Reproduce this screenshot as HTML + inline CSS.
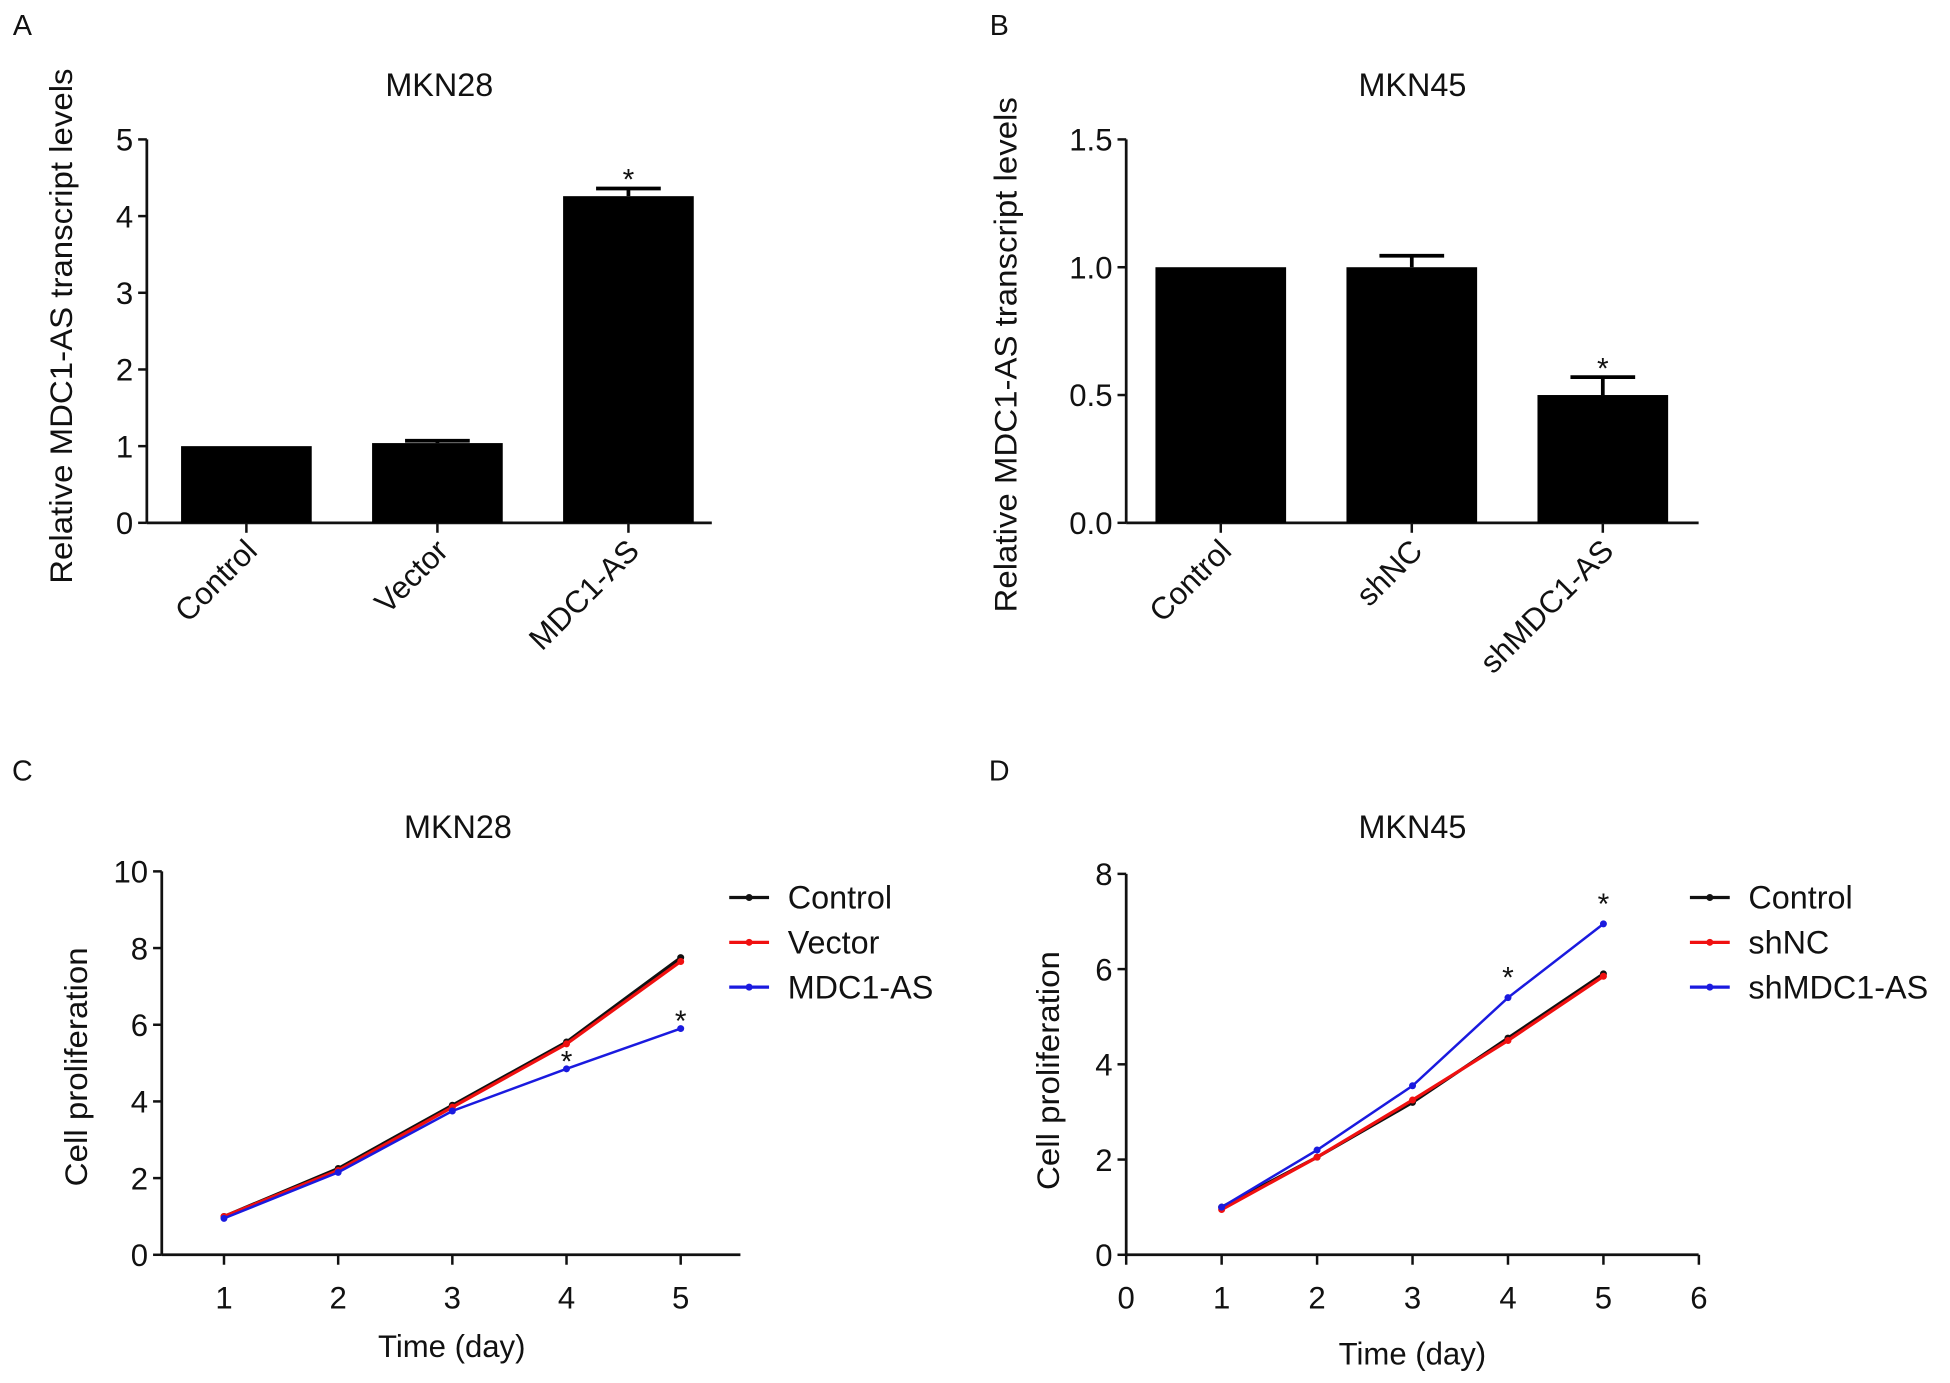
<!DOCTYPE html>
<html><head><meta charset="utf-8"><style>
html,body{margin:0;padding:0;background:#fff;}
svg{display:block;font-family:"Liberation Sans",Arial,sans-serif;}
</style></head><body>
<svg id="fig" width="1950" height="1383" viewBox="0 0 1567 1111" preserveAspectRatio="none" xmlns="http://www.w3.org/2000/svg">
<g id="root"></g>
</svg>
<script>
// Panel A data
const catsA = ["Control","Vector","MDC1-AS"];
const valsA = [1.0, 1.04, 4.26];
const errA = [0.0, 0.03, 0.1];
const ticksA = [0,1,2,3,4,5];
// Panel B data
const catsB = ["Control","shNC","shMDC1-AS"];
const valsB = [1.0, 1.0, 0.5];
const errB = [0.0, 0.045, 0.07];
const ticksB = ["0.0","0.5","1.0","1.5"];
// Panel C data
const daysC = [1,2,3,4,5];
const seriesNamesC = ["Control","Vector","MDC1-AS"];
const ctrlC = [1.0, 2.25, 3.9, 5.55, 7.75];
const vecC = [1.0, 2.2, 3.85, 5.5, 7.65];
const mdcC = [0.95, 2.15, 3.75, 4.85, 5.9];
const ticksCy = [0,2,4,6,8,10];
const ticksCx = [1,2,3,4,5];
// Panel D data
const daysD = [1,2,3,4,5];
const seriesNamesD = ["Control","shNC","shMDC1-AS"];
const ctrlD = [1.0, 2.05, 3.2, 4.55, 5.9];
const shncD = [0.95, 2.05, 3.25, 4.5, 5.85];
const shmD = [1.0, 2.2, 3.55, 5.4, 6.95];
const ticksDy = [0,2,4,6,8];
const ticksDx = [0,1,2,3,4,5,6];

const NS="http://www.w3.org/2000/svg";
const root=document.getElementById('root');
function el(tag,attrs,parent,text){const e=document.createElementNS(NS,tag);for(const k in attrs)e.setAttribute(k,attrs[k]);if(text!==undefined)e.textContent=text;(parent||root).appendChild(e);return e;}
function txt(x,y,s,size,anchor,name,extra){const t=el('text',Object.assign({x:x,y:y,'font-size':size,'text-anchor':anchor||'middle',fill:'#111'},extra||{}),root,s);


return t;}
function ln(x1,y1,x2,y2,c,w,name){const l=el('line',{x1,y1,x2,y2,stroke:c,'stroke-width':w});


return l;}
const FS=25;

txt(18,28,"A",23,'middle','panel-label-a');
txt(803,28,"B",23,'middle','panel-label-b');
txt(18,627,"C",23,'middle','panel-label-c');
txt(803,627,"D",23,'middle','panel-label-d');

function barPanel(o){
  const y=v=>o.y0-(v-o.ymin)/(o.ymax-o.ymin)*(o.y0-o.y1);
  txt(o.titleX,77,o.title,26,'middle',o.p+'-title');
  ln(o.ax,o.y1,o.ax,o.y0,'#111',2.2,o.p+'-y-axis');
  ln(o.ax,o.y0,o.xend,o.y0,'#111',2.2,o.p+'-x-axis');
  o.ticks.forEach(t=>{const v=parseFloat(t);const yy=y(v);
    ln(o.ax-7,yy,o.ax,yy,'#111',2,o.p+'-y-tick');
    txt(o.ax-11,yy+9,String(t),FS,'end',o.p+'-y-tick-label');});
  o.cats.forEach((c,i)=>{const cx=o.bx0+i*o.bstep;const w=o.bw;
    const r=el('rect',{x:cx-w/2,y:y(o.vals[i]),width:w,height:o.y0-y(o.vals[i]),fill:'#000'});
    
    
    if(o.errs[i]>0){const te=y(o.vals[i]+o.errs[i]);
      ln(cx,y(o.vals[i]),cx,te,'#000',3,o.p+'-error-bar');
      ln(cx-26,te,cx+26,te,'#000',3,o.p+'-error-cap');}
    ln(cx,o.y0,cx,o.y0+8,'#111',2,o.p+'-x-tick');
    const lx=cx+10, ly=o.y0+24;
    txt(lx,ly,c,FS,'end',o.p+'-x-label',{transform:`rotate(-45 ${lx} ${ly})`});
    if(o.star===i){txt(cx,y(o.vals[i]+o.errs[i])+1,"*",24,'middle',o.p+'-significance-star');}
  });
  txt(o.ytX,o.ytY,o.ytitle,FS,'middle',o.p+'-y-axis-title',{transform:`rotate(-90 ${o.ytX} ${o.ytY})`,textLength:o.ytLen,lengthAdjust:'spacingAndGlyphs'});
}
barPanel({p:'a',title:'MKN28',titleX:353,ax:118,y0:420,y1:112,ymin:0,ymax:5,xend:572,ticks:ticksA,cats:catsA,vals:valsA,errs:errA,bx0:198,bstep:153.5,bw:105,star:2,ytitle:'Relative MDC1-AS transcript levels',ytX:58,ytY:262,ytLen:414});
barPanel({p:'b',title:'MKN45',titleX:1135,ax:905,y0:420,y1:112,ymin:0,ymax:1.5,xend:1365,ticks:ticksB,cats:catsB,vals:valsB,errs:errB,bx0:981,bstep:153.5,bw:105,star:2,ytitle:'Relative MDC1-AS transcript levels',ytX:817,ytY:285,ytLen:414});

function linePanel(o){
  const x=v=>o.x0+(v-o.xmin)*o.xs;
  const y=v=>o.y0-(v)/(o.ymax)*(o.y0-o.y1);
  txt(o.titleX,673,o.title,26,'middle',o.p+'-title');
  ln(o.ax,o.y1,o.ax,o.y0,'#111',2.2,o.p+'-y-axis');
  ln(o.ax,o.y0,o.xend,o.y0,'#111',2.2,o.p+'-x-axis');
  o.yt.forEach(t=>{const yy=y(t);ln(o.ax-7,yy,o.ax,yy,'#111',2,o.p+'-y-tick');txt(o.ax-11,yy+9,String(t),FS,'end',o.p+'-y-tick-label');});
  o.xt.forEach(t=>{const xx=x(t);ln(xx,o.y0,xx,o.y0+8,'#111',2,o.p+'-x-tick');txt(xx,o.y0+43,String(t),FS,'middle',o.p+'-x-tick-label');});
  txt(o.xtX,o.xtY,'Time (day)',FS,'middle',o.p+'-x-axis-title');
  txt(o.ytX,o.ytY,'Cell proliferation',FS,'middle',o.p+'-y-axis-title',{transform:`rotate(-90 ${o.ytX} ${o.ytY})`,textLength:192,lengthAdjust:'spacingAndGlyphs'});
  const cols=['#111','#f01010','#1a1adf'];
  o.series.forEach((s,k)=>{
    const pts=o.days.map((d,i)=>x(d)+','+y(s[i])).join(' ');
    const pl=el('polyline',{points:pts,fill:'none',stroke:cols[k],'stroke-width':k==2?2:2.6});
    
    
    o.days.forEach((d,i)=>{const c=el('circle',{cx:x(d),cy:y(s[i]),r:2.8,fill:cols[k]});
      
      });
    const ly=721+k*36;
    ln(o.legX,ly,o.legX+32,ly,cols[k],2.6,o.p+'-legend-line');
    const lc=el('circle',{cx:o.legX+16,cy:ly,r:2.8,fill:cols[k]});
    
    
    txt(o.legX+47,ly+9,o.names[k],26,'start',o.p+'-legend-entry');
  });
  o.stars.forEach(i=>{txt(x(o.days[i]),y(o.series[2][i])+o.starOff,"*",24,'middle',o.p+'-significance-star');});
}
linePanel({p:'c',title:'MKN28',titleX:368,ax:130,x0:180,xmin:1,xs:91.75,y0:1008,y1:700,ymax:10,xend:595,yt:ticksCy,xt:ticksCx,days:daysC,series:[ctrlC,vecC,mdcC],names:seriesNamesC,legX:586,stars:[3,4],starOff:2,xtX:363,xtY:1090,ytX:70,ytY:857});
linePanel({p:'d',title:'MKN45',titleX:1135,ax:905,x0:905,xmin:0,xs:76.7,y0:1008,y1:702,ymax:8,xend:1365,yt:ticksDy,xt:ticksDx,days:daysD,series:[ctrlD,shncD,shmD],names:seriesNamesD,legX:1358,stars:[3,4],starOff:-8,xtX:1135,xtY:1096,ytX:851,ytY:860});
</script>
</body></html>
